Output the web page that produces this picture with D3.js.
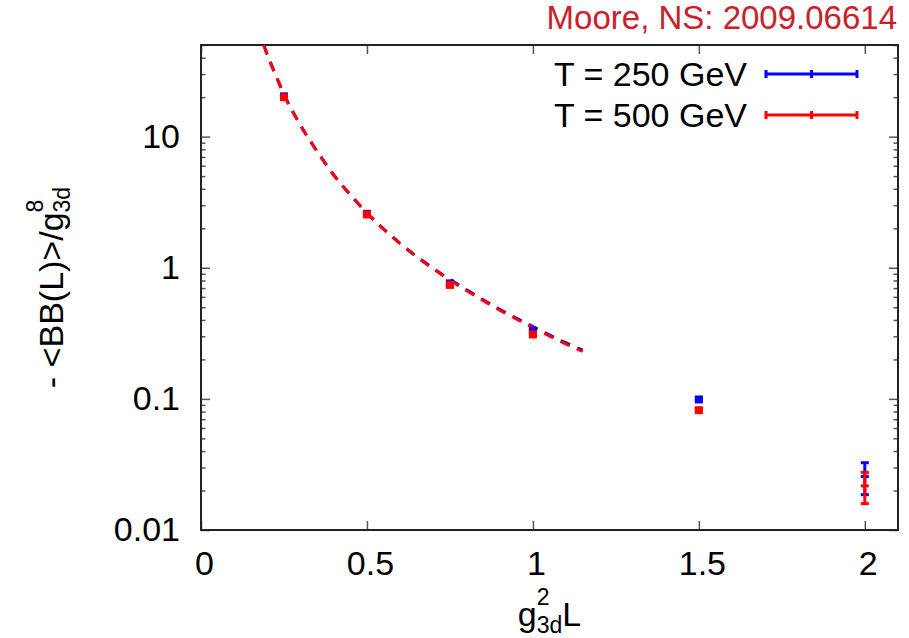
<!DOCTYPE html>
<html>
<head>
<meta charset="utf-8">
<script src="https://cdn.jsdelivr.net/npm/d3@7"></script>
<style>
  body { margin: 0; background: #fff; }
  svg { display: block; font-family: "Liberation Sans", Arial, sans-serif; }
</style>
</head>
<body>
<div id="mychart"></div>
<script>
// measured points, T = 250 GeV (blue) and T = 500 GeV (red)
const xPts = [0.25, 0.5, 0.75, 1.0, 1.5, 2.0];
const y250 = [20.3, 2.58, 0.76, 0.33, 0.099, 0.0256];
const e250 = [0.6, 0.08, 0.02, 0.01, 0.002, 0.007];
const y500 = [20.0, 2.55, 0.74, 0.31, 0.082, 0.0217];
const e500 = [0.6, 0.08, 0.02, 0.01, 0.002, 0.0058];

// dashed fit curves
const fitX   = [0.189, 0.2, 0.225, 0.25, 0.3, 0.35, 0.4, 0.45, 0.5, 0.6, 0.7, 0.8, 0.9, 1.0, 1.1, 1.15];
const fit250 = [50, 42, 29.5, 21, 12.2, 7.7, 5.1, 3.6, 2.62, 1.53, 0.99, 0.68, 0.483, 0.356, 0.267, 0.235];
const fit500 = [50, 42, 29.5, 21, 12.2, 7.7, 5.1, 3.6, 2.62, 1.53, 0.98, 0.67, 0.475, 0.35, 0.262, 0.23];

const xTicks = [0, 0.5, 1, 1.5, 2];
const yTicks = [0.01, 0.1, 1, 10];
const legendLabels = ["T = 250 GeV", "T = 500 GeV"];
const colors = ["#0000ff", "#ff0000"];
const titleText = "Moore, NS: 2009.06614";

const width = 909, height = 638;
const mLeft = 201, mRight = 898, mTop = 45, mBottom = 530;

const svg = d3.select("#mychart").append("svg")
    .attr("width", width)
    .attr("height", height);

const x = d3.scaleLinear().domain([0, 2.1]).range([mLeft, mRight]);
const y = d3.scaleLog().domain([0.01, 50]).range([mBottom, mTop]);

// minor log ticks
const minor = [];
[0.01, 0.1, 1, 10].forEach(d => {
    for (let k = 2; k <= 9; k++) if (d * k <= 50) minor.push(d * k);
});

const fs = 34;

function styleAxis(g) {
    g.select(".domain").remove();
    g.selectAll(".tick line").attr("stroke", "#555").attr("stroke-width", 1.5);
    g.selectAll(".tick text").attr("fill", "#000").attr("font-size", fs).attr("font-family", "Liberation Sans, Arial, sans-serif");
}

svg.append("g")
    .attr("transform", `translate(0,${mBottom})`)
    .call(d3.axisBottom(x).tickValues(xTicks).tickSize(-9).tickPadding(21)
        .tickFormat(d => String(d)))
    .call(styleAxis)
    .call(g => g.selectAll(".tick text").attr("dx", 3));

svg.append("g")
    .attr("transform", `translate(0,${mTop})`)
    .call(d3.axisTop(x).tickValues(xTicks).tickSize(-9).tickFormat(""))
    .call(styleAxis);

svg.append("g")
    .attr("transform", `translate(${mLeft},0)`)
    .call(d3.axisLeft(y).tickValues(yTicks).tickSize(-9).tickPadding(21)
        .tickFormat(d => String(d)))
    .call(styleAxis);

svg.append("g")
    .attr("transform", `translate(${mLeft},0)`)
    .call(d3.axisLeft(y).tickValues(minor).tickSize(-4.5).tickFormat(""))
    .call(styleAxis);

svg.append("g")
    .attr("transform", `translate(${mRight},0)`)
    .call(d3.axisRight(y).tickValues(yTicks).tickSize(-9).tickFormat(""))
    .call(styleAxis);

svg.append("g")
    .attr("transform", `translate(${mRight},0)`)
    .call(d3.axisRight(y).tickValues(minor).tickSize(-4.5).tickFormat(""))
    .call(styleAxis);

// frame
svg.append("rect")
    .attr("x", mLeft).attr("y", mTop)
    .attr("width", mRight - mLeft).attr("height", mBottom - mTop)
    .attr("fill", "none").attr("stroke", "#222").attr("stroke-width", 2);

const plot = svg.append("g");

// fit curves
const line = d3.line()
    .x(d => x(d[0]))
    .y(d => y(d[1]))
    .curve(d3.curveMonotoneX);

[fit250, fit500].forEach((fy, i) => {
    plot.append("path")
        .datum(fitX.map((v, j) => [v, fy[j]]))
        .attr("d", line)
        .attr("fill", "none")
        .attr("stroke", colors[i])
        .attr("stroke-width", 3)
        .attr("stroke-dasharray", "10,8");
});

// points with error bars
const cap = 4, sq = 8;
[[y250, e250], [y500, e500]].forEach(([ys, es], i) => {
    const data = xPts.map((v, j) => ({ x: v, y: ys[j], e: es[j] }));
    const g = plot.append("g").attr("stroke", colors[i]).attr("fill", colors[i]);
    const pt = g.selectAll("g").data(data).join("g");
    pt.append("line")
        .attr("x1", d => x(d.x)).attr("x2", d => x(d.x))
        .attr("y1", d => y(d.y - d.e)).attr("y2", d => y(d.y + d.e))
        .attr("stroke-width", 3);
    pt.append("line")
        .attr("x1", d => x(d.x) - cap).attr("x2", d => x(d.x) + cap)
        .attr("y1", d => y(d.y - d.e)).attr("y2", d => y(d.y - d.e))
        .attr("stroke-width", 3);
    pt.append("line")
        .attr("x1", d => x(d.x) - cap).attr("x2", d => x(d.x) + cap)
        .attr("y1", d => y(d.y + d.e)).attr("y2", d => y(d.y + d.e))
        .attr("stroke-width", 3);
    pt.filter(d => d.x < 2).append("rect")
        .attr("x", d => x(d.x) - sq / 2).attr("y", d => y(d.y) - sq / 2)
        .attr("width", sq).attr("height", sq)
        .attr("stroke", "none");
    pt.filter(d => d.x >= 2).append("line")
        .attr("x1", d => x(d.x) - cap).attr("x2", d => x(d.x) + cap)
        .attr("y1", d => y(d.y)).attr("y2", d => y(d.y))
        .attr("stroke-width", 3);
});

// legend
const leg = svg.append("g");
legendLabels.forEach((t, i) => {
    const ly = 74 + i * 41;
    leg.append("text")
        .attr("x", 747).attr("y", ly + 12)
        .attr("text-anchor", "end")
        .attr("font-size", fs)
        .text(t);
    const lg = leg.append("g").attr("stroke", colors[i]).attr("stroke-width", 3);
    lg.append("line").attr("x1", 766).attr("x2", 857).attr("y1", ly).attr("y2", ly);
    [766, 811.5, 857].forEach(cx => {
        lg.append("line").attr("x1", cx).attr("x2", cx).attr("y1", ly - 4).attr("y2", ly + 4);
    });
});

// title
svg.append("text")
    .attr("x", 897).attr("y", 29)
    .attr("text-anchor", "end")
    .attr("font-size", 33)
    .attr("fill", "#cc2029")
    .text(titleText);

// x label: g^2_{3d} L
const xl = svg.append("g");
const subFs = 23;
const gT = xl.append("text").attr("font-size", fs).attr("y", 626).text("g");
const supT = xl.append("text").attr("font-size", subFs).attr("y", 605).text("2");
const subT = xl.append("text").attr("font-size", subFs).attr("y", 633).text("3d");
const LT = xl.append("text").attr("font-size", fs).attr("y", 626).text("L");
{
    const wg = gT.node().getComputedTextLength();
    const ws = Math.max(supT.node().getComputedTextLength(), subT.node().getComputedTextLength());
    const wL = LT.node().getComputedTextLength();
    const x0 = (mLeft + mRight) / 2 - (wg + ws + wL) / 2;
    gT.attr("x", x0);
    supT.attr("x", x0 + wg);
    subT.attr("x", x0 + wg);
    LT.attr("x", x0 + wg + ws);
}

// y label: - <BB(L)>/g^8_{3d}
const yl = svg.append("g").attr("transform", `translate(63,${(mTop + mBottom) / 2}) rotate(-90)`);
const mT = yl.append("text").attr("font-size", fs).attr("y", 0).text("- <BB(L)>/g");
const ySup = yl.append("text").attr("font-size", subFs).attr("y", -20).text("8");
const ySub = yl.append("text").attr("font-size", subFs).attr("y", 7).text("3d");
{
    const wm = mT.node().getComputedTextLength();
    const ws = Math.max(ySup.node().getComputedTextLength(), ySub.node().getComputedTextLength());
    const x0 = -(wm + ws) / 2;
    mT.attr("x", x0);
    ySup.attr("x", x0 + wm);
    ySub.attr("x", x0 + wm);
}
</script>
</body>
</html>
